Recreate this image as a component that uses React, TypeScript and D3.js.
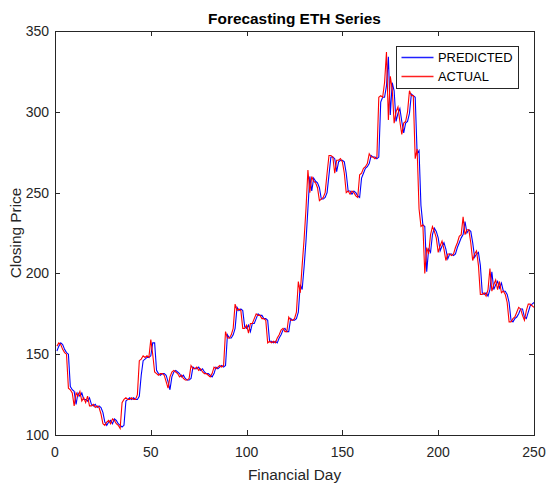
import React, { useEffect, useRef } from 'react';
import * as d3 from 'd3';

// closing price, days 1..250
const actual: number[] = [
  155, 157, 156, 153, 151, 150, 129, 128, 126, 118,
  126, 124, 127, 121, 123, 120, 124, 118, 118, 119,
  117, 118, 117, 113, 107, 106, 108, 109, 107, 110,
  109, 107, 106, 104, 120, 122, 123, 122, 122, 123,
  122, 122, 125, 146, 147, 149, 148, 149, 148, 159,
  150, 139, 138, 137, 138, 138, 137, 133, 129, 136,
  139, 140, 139, 138, 136, 137, 135, 134, 134, 135,
  143, 141, 141, 142, 140, 141, 139, 138, 138, 137,
  136, 138, 142, 141, 142, 143, 142, 143, 164, 160,
  160, 162, 166, 181, 177, 178, 177, 166, 166, 168,
  163, 169, 169, 172, 175, 174, 174, 172, 172, 171,
  157, 158, 157, 158, 157, 160, 162, 165, 166, 164,
  164, 173, 171, 171, 172, 176, 195, 188, 205, 221,
  240, 264, 250, 260, 257, 256, 253, 245, 246, 247,
  250, 262, 273, 273, 272, 262, 270, 270, 271, 269,
  262, 250, 251, 249, 251, 250, 248, 247, 261, 262,
  265, 266, 268, 274, 272, 272, 271, 272, 309, 310,
  309, 318, 337, 295, 322, 314, 293, 300, 303, 294,
  286, 293, 294, 300, 313, 310, 310, 271, 277, 240,
  229, 230, 200, 216, 212, 224, 229, 226, 222, 213,
  217, 220, 215, 208, 212, 212, 211, 212, 216, 219,
  223, 224, 235, 224, 227, 227, 219, 208, 212, 214,
  205, 187, 187, 188, 186, 190, 203, 189, 193, 196,
  190, 195, 188, 189, 187, 182, 170, 170, 172, 173,
  176, 179, 178, 174, 171, 177, 181, 181, 180, 179,
];

const predicted: number[] = [
  152, 155, 157, 156, 153, 151, 150, 130, 128, 127,
  119, 126, 124, 126, 122, 122, 121, 123, 119, 118,
  119, 117, 118, 117, 114, 108, 106, 108, 109, 107,
  110, 109, 107, 106, 105, 106, 121, 122, 123, 122,
  123, 122, 122, 124, 137, 146, 147, 148, 148, 149,
  157, 157, 140, 138, 137, 138, 138, 137, 133, 128,
  136, 139, 140, 139, 138, 136, 137, 135, 134, 134,
  135, 142, 141, 141, 142, 140, 141, 139, 138, 138,
  137, 136, 138, 142, 141, 142, 143, 142, 143, 162,
  160, 160, 162, 166, 179, 177, 178, 177, 167, 166,
  168, 164, 169, 169, 172, 175, 174, 174, 172, 172,
  171, 158, 158, 157, 158, 157, 160, 162, 165, 166,
  164, 164, 172, 171, 171, 172, 176, 193, 190, 204,
  220, 240, 260, 251, 259, 257, 256, 253, 246, 246,
  247, 250, 261, 272, 272, 271, 263, 269, 270, 270,
  269, 262, 251, 251, 249, 251, 250, 248, 247, 259,
  262, 265, 266, 268, 273, 272, 272, 271, 272, 306,
  309, 309, 316, 334, 298, 318, 313, 294, 299, 302,
  294, 287, 293, 294, 299, 311, 310, 309, 274, 276,
  242, 230, 229, 201, 215, 213, 224, 228, 226, 222,
  214, 217, 219, 215, 209, 212, 212, 211, 212, 216,
  219, 222, 224, 232, 225, 227, 226, 219, 210, 212,
  213, 205, 188, 187, 188, 186, 190, 201, 190, 193,
  195, 191, 194, 189, 189, 187, 182, 171, 170, 172,
  173, 175, 178, 178, 173, 172, 176, 180, 181, 182,
];

const xTicks = [0, 50, 100, 150, 200, 250];
const yTicks = [100, 150, 200, 250, 300, 350];

const App: React.FC = () => {
  const svgRef = useRef<SVGSVGElement | null>(null);

  useEffect(() => {
    const svg = d3.select(svgRef.current);
    svg.selectAll('*').remove();

    const width = 550;
    const height = 492;
    const left = 55;
    const right = 534;
    const top = 31;
    const bottom = 435;
    const font = '"Liberation Sans", Arial, sans-serif';
    const axisColor = '#262626';

    svg.attr('width', width).attr('height', height);
    svg.append('rect').attr('width', width).attr('height', height).attr('fill', '#fff');

    const x = d3.scaleLinear().domain([0, 250]).range([left, right]);
    const y = d3.scaleLinear().domain([100, 350]).range([bottom, top]);

    const line = d3
      .line<number>()
      .x((_, i) => x(i + 1))
      .y((d) => y(d));

    svg.append('path')
      .datum(predicted)
      .attr('d', line)
      .attr('fill', 'none')
      .attr('stroke', '#0000ff')
      .attr('stroke-width', 1.1);

    svg.append('path')
      .datum(actual)
      .attr('d', line)
      .attr('fill', 'none')
      .attr('stroke', '#ff0000')
      .attr('stroke-width', 1.1);

    // box
    svg.append('rect')
      .attr('x', left + 0.5)
      .attr('y', top + 0.5)
      .attr('width', right - left)
      .attr('height', bottom - top)
      .attr('fill', 'none')
      .attr('stroke', axisColor)
      .attr('stroke-width', 1);

    const tl = 5;
    xTicks.forEach((t) => {
      const px = Math.round(x(t)) + 0.5;
      svg.append('line').attr('x1', px).attr('x2', px).attr('y1', bottom).attr('y2', bottom - tl).attr('stroke', axisColor);
      svg.append('line').attr('x1', px).attr('x2', px).attr('y1', top).attr('y2', top + tl).attr('stroke', axisColor);
      svg.append('text')
        .attr('x', x(t))
        .attr('y', bottom + 22)
        .attr('text-anchor', 'middle')
        .attr('font-family', font)
        .attr('font-size', 14)
        .attr('fill', axisColor)
        .text(t);
    });

    yTicks.forEach((t) => {
      const py = Math.round(y(t)) + 0.5;
      svg.append('line').attr('x1', left).attr('x2', left + tl).attr('y1', py).attr('y2', py).attr('stroke', axisColor);
      svg.append('line').attr('x1', right).attr('x2', right - tl).attr('y1', py).attr('y2', py).attr('stroke', axisColor);
      svg.append('text')
        .attr('x', left - 6)
        .attr('y', y(t) + 5)
        .attr('text-anchor', 'end')
        .attr('font-family', font)
        .attr('font-size', 14)
        .attr('fill', axisColor)
        .text(t);
    });

    svg.append('text')
      .attr('x', (left + right) / 2)
      .attr('y', 24)
      .attr('text-anchor', 'middle')
      .attr('font-family', font)
      .attr('font-size', 15.4)
      .attr('font-weight', 'bold')
      .attr('fill', '#000')
      .text('Forecasting ETH Series');

    svg.append('text')
      .attr('x', (left + right) / 2)
      .attr('y', 480)
      .attr('text-anchor', 'middle')
      .attr('font-family', font)
      .attr('font-size', 15.4)
      .attr('fill', axisColor)
      .text('Financial Day');

    svg.append('text')
      .attr('transform', `translate(21, ${(top + bottom) / 2}) rotate(-90)`)
      .attr('text-anchor', 'middle')
      .attr('font-family', font)
      .attr('font-size', 15.4)
      .attr('fill', axisColor)
      .text('Closing Price');

    // legend
    const lg = svg.append('g').attr('transform', 'translate(396.5, 46.5)');
    lg.append('rect')
      .attr('width', 122)
      .attr('height', 42)
      .attr('fill', '#fff')
      .attr('stroke', axisColor)
      .attr('stroke-width', 1);
    const items = [
      { label: 'PREDICTED', color: '#2020ff' },
      { label: 'ACTUAL', color: '#ff2020' },
    ];
    items.forEach((it, i) => {
      const ly = 11 + i * 19;
      lg.append('line')
        .attr('x1', 5)
        .attr('x2', 37)
        .attr('y1', ly)
        .attr('y2', ly)
        .attr('stroke', it.color)
        .attr('stroke-width', 1.6);
      lg.append('text')
        .attr('x', 41.5)
        .attr('y', ly + 4.6)
        .attr('font-family', font)
        .attr('font-size', 12.9)
        .attr('fill', '#000')
        .text(it.label);
    });
  }, []);

  return <svg ref={svgRef} style={{ position: 'absolute', left: 0, top: 0 }}></svg>;
};

export default App;
